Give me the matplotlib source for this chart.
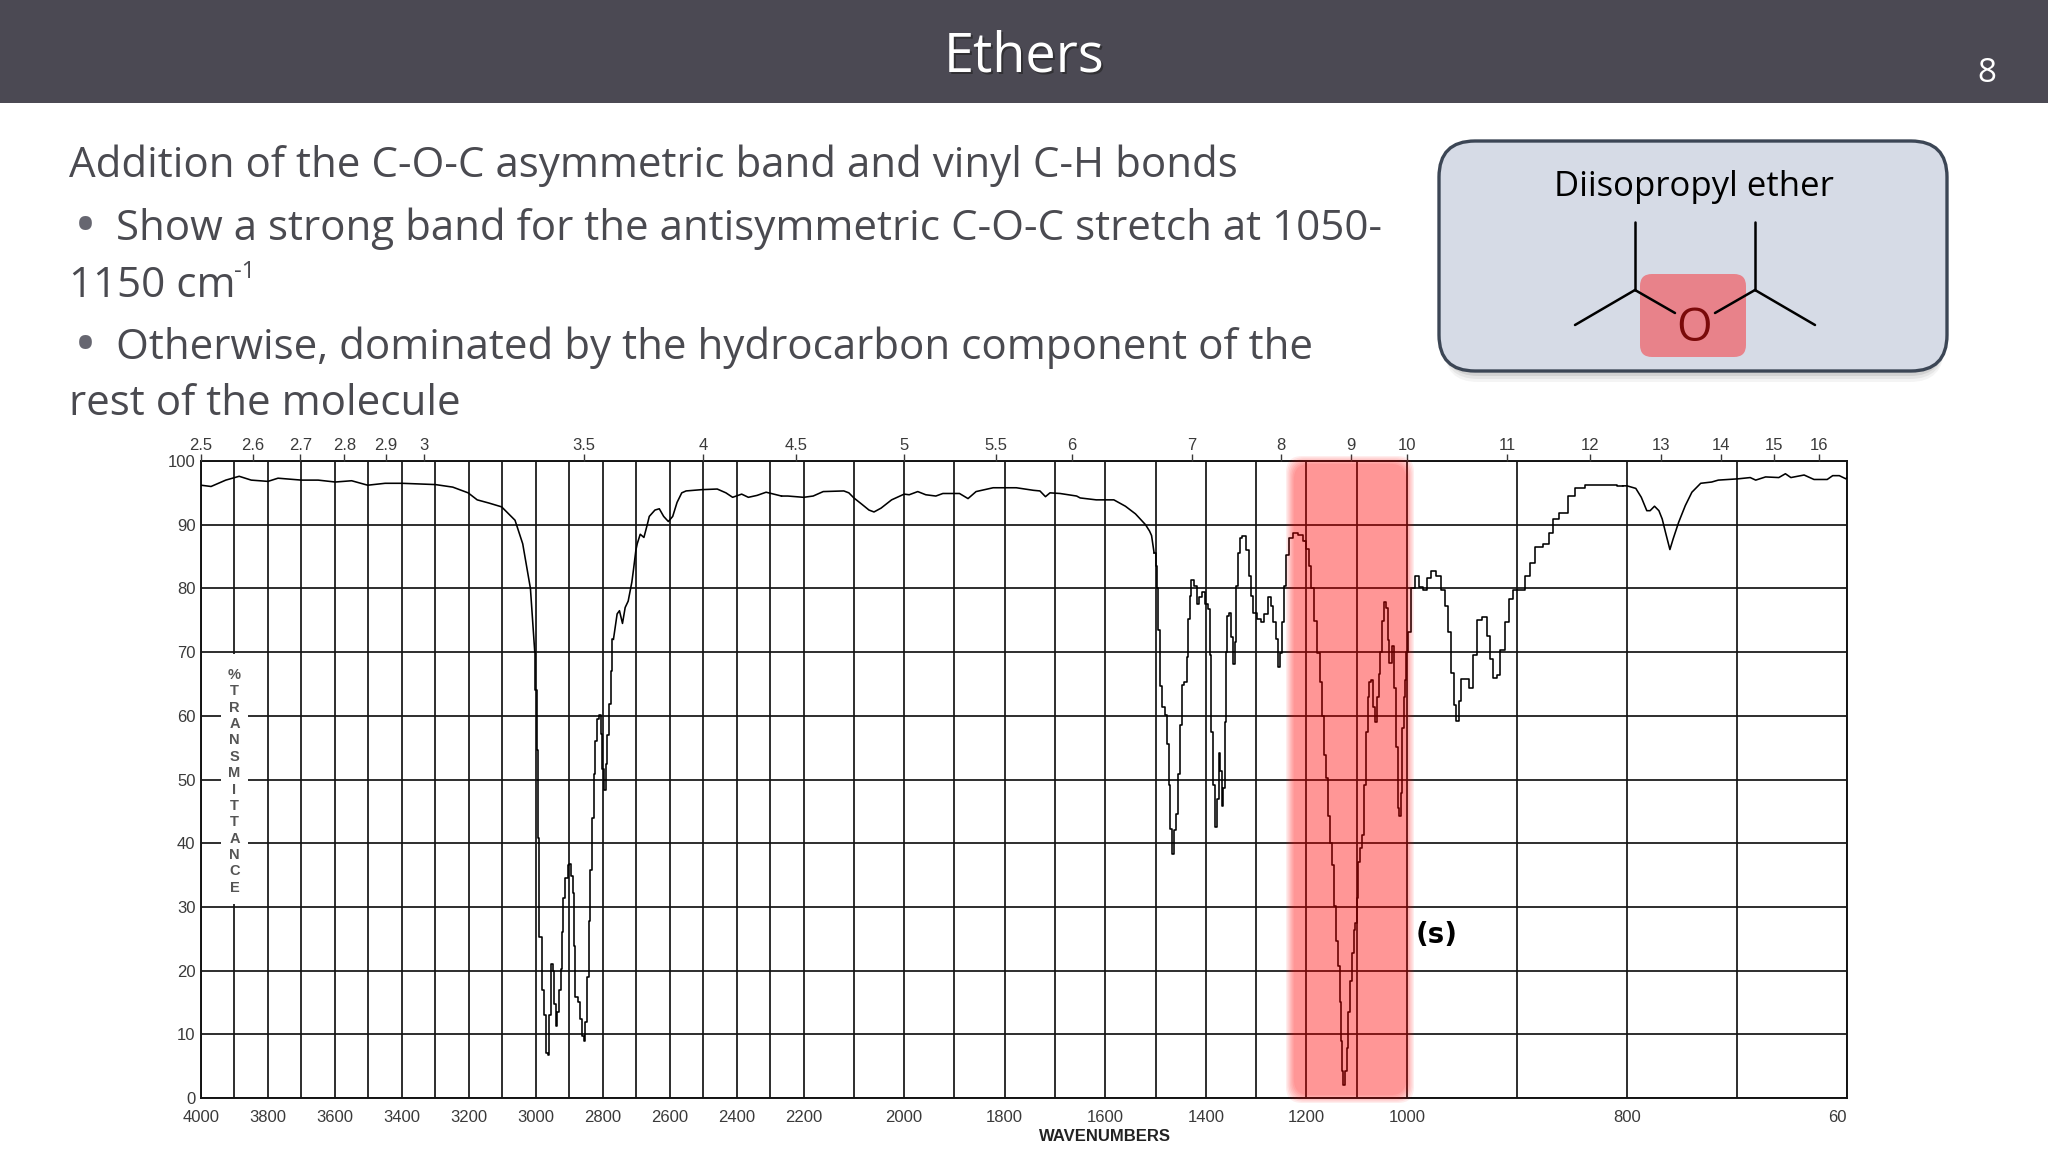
import numpy as np
import matplotlib
matplotlib.use("Agg")
import matplotlib.pyplot as plt
from matplotlib.patches import FancyBboxPatch, Rectangle

# spectrum (wavenumber, %T)
wn_base = [4000, 3970, 3926, 3886, 3850, 3800, 3770, 3700, 3650, 3599, 3550, 3502, 3450, 3400, 3350, 3300, 3248,
           3202, 3175, 3140, 3102, 3062, 3039, 3016, 3003]
t_base = [96.2, 96, 97, 97.6, 97, 96.8, 97.3, 97, 97, 96.7, 96.9, 96.2, 96.5, 96.5, 96.4, 96.3, 95.9,
          95, 93.9, 93.4, 92.8, 90.7, 87, 80, 70]

wn_ch = [2999, 2996, 2993, 2985, 2979, 2974, 2967, 2962, 2957, 2954, 2946, 2944, 2938, 2933, 2928, 2923, 2920,
         2915, 2908, 2902, 2897, 2892, 2888, 2884, 2879, 2871, 2864, 2859, 2853, 2851, 2844, 2840, 2834, 2830,
         2825, 2820, 2815, 2809, 2803, 2799, 2793, 2789, 2784, 2779, 2774, 2768]
t_ch = [64, 54.6, 40.8, 25.2, 17, 13, 7, 6.7, 13, 21, 20, 14.8, 11.3, 13.5, 16.9, 20.2, 26,
        31.4, 34.5, 36.6, 36.8, 34.8, 32.2, 23.9, 15.8, 15, 12.4, 9.8, 9, 11.9, 19, 27.8, 35.8, 43.9,
        50.9, 56, 59.5, 60.1, 57.1, 51.7, 48.3, 52.4, 57, 61.8, 67, 72]

wn_over = [2757, 2750, 2741, 2733, 2724, 2713, 2708, 2701, 2697, 2688, 2677, 2667, 2661, 2644, 2631, 2618, 2604,
           2591, 2578, 2564, 2551, 2505, 2458, 2432, 2412, 2385, 2365, 2339, 2312, 2266]
t_over = [76, 76.5, 74.5, 77, 78, 81, 83, 86, 87, 88.5, 88, 90, 91.3, 92.3, 92.5, 91.3, 90.5,
          91.3, 93.5, 95, 95.3, 95.5, 95.6, 95, 94.3, 94.8, 94.3, 94.6, 95.1, 94.5]

wn_mid = [2247, 2200, 2181, 2161, 2120, 2110, 2100, 2084, 2070, 2060, 2046, 2025, 2000, 1990, 1973, 1957, 1937,
          1923, 1890, 1873, 1857, 1823, 1777, 1743, 1730, 1719, 1710, 1690, 1657, 1650, 1618, 1583, 1560, 1540,
          1520, 1512, 1508, 1503]
t_mid = [94.5, 94.3, 94.5, 95.2, 95.3, 95, 94.2, 93.2, 92.3, 92, 92.6, 93.9, 94.8, 94.7, 95.2, 94.7, 94.5,
         94.9, 94.9, 94.1, 95.2, 95.8, 95.8, 95.4, 95.3, 94.4, 95, 94.9, 94.5, 94.2, 93.9, 93.9, 92.9, 91.7,
         90, 89, 88.3, 85.6]

wn_fp1 = [1497, 1497, 1493, 1490, 1485, 1479, 1475, 1472, 1469, 1465, 1462, 1457, 1453, 1449, 1445, 1440, 1437,
          1434, 1431, 1427, 1422, 1415, 1411, 1405, 1399, 1393, 1391, 1387, 1384, 1381, 1375, 1373, 1370, 1367,
          1363, 1361, 1359, 1355, 1351, 1349, 1344, 1341, 1339, 1335, 1331, 1324, 1317, 1312, 1309, 1302, 1295,
          1287, 1280, 1273, 1269, 1264, 1259, 1255, 1251, 1247, 1243, 1239, 1232, 1222, 1212, 1202]
t_fp1 = [83.5, 80, 73.4, 64.6, 61.4, 60.1, 55.5, 49.2, 42.2, 38.3, 42, 44.6, 50.8, 58.6, 64.8, 65.3, 69.2,
         75.2, 78.8, 81.3, 80.4, 77.5, 78.6, 79.4, 77.5, 76.8, 69.5, 57.5, 49.2, 42.5, 46.9, 54.2, 51.3, 45.9,
         48.7, 59.1, 70, 75.7, 76.2, 72.3, 68.2, 71.6, 80.4, 85.6, 87.9, 88.2, 86.1, 82, 78.8, 76.2, 75.2,
         74.8, 76, 78.6, 77.3, 74.7, 72.1, 67.7, 69.8, 74.7, 80.4, 85.3, 87.9, 88.7, 88.4, 87.4]

wn_coc = [1198, 1193, 1188, 1181, 1177, 1171, 1168, 1163, 1159, 1155, 1150, 1147, 1143, 1138, 1135, 1133, 1131,
          1128, 1125, 1121, 1118, 1115, 1111, 1108, 1104, 1101, 1099, 1097, 1091, 1088, 1083, 1080, 1077, 1073,
          1069, 1065, 1061, 1057, 1055, 1051, 1047, 1043, 1040, 1037, 1033, 1028, 1023, 1020, 1017, 1014, 1011,
          1008, 1005, 1003, 1000]
t_coc = [86.2, 83.5, 80, 74.9, 69.8, 65.3, 59.9, 53.9, 50.3, 44.3, 40.1, 36.5, 30.2, 24.6, 20.7, 15, 9,
         4.2, 2, 4.2, 7.8, 13.5, 18.3, 22.8, 26.3, 27.5, 31.4, 37.1, 39.2, 41.3, 49.1, 57.5, 62.9, 65.3,
         65.6, 61.4, 59, 62.9, 66.5, 70, 74.9, 77.8, 76.9, 71.9, 68.3, 71, 64.4, 55.1, 45.5, 44.3, 47.9,
         58.1, 62.9, 65.6, 70]

wn_fp2 = [998, 995, 991, 987, 983, 980, 976, 972, 967, 964, 961, 959, 956, 954, 952, 949, 946, 942, 938, 934,
          929, 926, 923, 920, 917, 913, 909, 906, 901, 895, 891, 886, 881, 872, 869, 866, 857, 851, 843, 834,
          815, 804]
t_fp2 = [73.2, 80, 81.9, 80.2, 79.7, 81.7, 82.8, 81.9, 79.7, 77.2, 73.2, 66.7, 61.7, 59.2, 62.4, 65.7, 65.7, 64.4, 69.6, 75,
         75.5, 72.5, 68.9, 66, 66.4, 70.3, 74.7, 78.3, 79.7, 79.8, 81.9, 84, 86.5, 87, 88.7, 90.9, 91.9, 94.5, 95.7, 96.2,
         96.3, 96.1]

wn_end = [800, 792, 787, 782, 779, 775, 771, 768, 765, 761, 758, 753, 747, 741, 733, 723, 717, 699, 688, 683,
          674, 662, 656, 651, 639, 630, 618, 613, 607, 601, 600]
t_end = [96.1, 95.7, 94.3, 92.2, 92.2, 92.9, 92.2, 90.9, 88.8, 86.1, 87.8, 90.4, 93, 95.1, 96.5, 96.7, 97, 97.2, 97.4, 97,
         97.5, 97.4, 98, 97.4, 97.8, 97.1, 97.1, 97.7, 97.7, 97.2, 97.4]

grid_wn = list(range(4000, 999, -100)) + [900, 800, 700, 600]
grid_t = list(range(0, 101, 10))
bottom_labels = [4000, 3800, 3600, 3400, 3200, 3000, 2800, 2600, 2400, 2200, 2000, 1800, 1600, 1400, 1200, 1000, 800]
micron_labels = ['2.5', '2.6', '2.7', '2.8', '2.9', '3', '3.5', '4', '4.5', '5', '5.5', '6', '7', '8', '9', '10',
                 '11', '12', '13', '14', '15', '16']

# the old spectrometer charts change scale at 2200 and 1000 cm-1
scale_wn = [600, 1000, 2200, 4000]
scale_pos = [0, 440, 1043.4, 1646]


def forward(w):
    return np.interp(w, scale_wn, scale_pos)


def inverse(p):
    return np.interp(p, scale_pos, scale_wn)


W, H = 2048, 1152
fig = plt.figure(figsize=(W / 100, H / 100), dpi=100, facecolor='white')
plt.rcParams['font.family'] = ['Open Sans', 'DejaVu Sans']
TEXT_FONT = 'Open Sans'
CHART_FONT = 'Liberation Sans'

# slide background, pixel coordinates
bg = fig.add_axes([0, 0, 1, 1], zorder=0)
bg.set_xlim(0, W)
bg.set_ylim(H, 0)
bg.axis('off')
bg.add_patch(Rectangle((0, 0), W, 103, fc='#4b4953', ec='none'))
bg.text(1026, 59, 'Ethers', color='#222222', fontsize=39, family=TEXT_FONT, ha='center', va='center', alpha=0.6)
bg.text(1024, 57, 'Ethers', color='white', fontsize=39, family=TEXT_FONT, ha='center', va='center')
bg.text(1987, 73, '8', color='white', fontsize=24, family=TEXT_FONT, ha='center', va='center')

body_color = '#4a4a50'
body = [(69, 166, 'Addition of the C-O-C asymmetric band and vinyl C-H bonds'),
        (116, 229, 'Show a strong band for the antisymmetric C-O-C stretch at 1050-'),
        (69, 286, '1150 cm'),
        (116, 348, 'Otherwise, dominated by the hydrocarbon component of the'),
        (69, 404, 'rest of the molecule')]
for x, y, s in body:
    bg.text(x, y, s, color=body_color, fontsize=30.3, family=TEXT_FONT, ha='left', va='center')
bg.text(234, 272, '-1', color=body_color, fontsize=17, family=TEXT_FONT, ha='left', va='center')
for y in [229, 348]:
    bg.text(85, y, '\u2022', color='#666670', fontsize=44, family=TEXT_FONT, ha='center', va='center')

# structure box
for off, a in [(10, 0.10), (7, 0.15), (4, 0.25)]:
    bg.add_patch(FancyBboxPatch((1444, 146 + off), 500, 226, boxstyle='round,pad=0,rounding_size=34',
                                fc='#9a9a9a', ec='none', alpha=a))
bg.add_patch(FancyBboxPatch((1439, 141), 508, 230, boxstyle='round,pad=0,rounding_size=36',
                            fc='#d6dbe6', ec='#3c4655', lw=2.4))
bg.text(1694, 187, 'Diisopropyl ether', color='black', fontsize=25, family=TEXT_FONT, ha='center', va='center')
bg.add_patch(FancyBboxPatch((1640, 274), 106, 83, boxstyle='round,pad=0,rounding_size=12',
                            fc='#e8828a', ec='none'))
bonds = [((1635, 222), (1635, 290)), ((1575, 325), (1635, 290)), ((1635, 290), (1675, 313)),
         ((1715, 313), (1755, 290)), ((1755, 222), (1755, 290)), ((1755, 290), (1815, 325))]
for (x0, y0), (x1, y1) in bonds:
    bg.plot([x0, x1], [y0, y1], color='black', lw=1.8, solid_capstyle='round')
bg.text(1694, 329, 'O', color='#7a0a0a', fontsize=33, family=TEXT_FONT, ha='center', va='center')

# spectrum
ax = fig.add_axes([201 / W, 1 - 1098 / H, 1646 / W, 637 / H], zorder=2, facecolor='none')
ax.set_xscale('function', functions=(forward, inverse))
ax.set_xlim(4000, 600)
ax.set_ylim(0, 100)
ax.set_xticks(grid_wn)
ax.set_xticklabels([str(v) if v in bottom_labels else '' for v in grid_wn])
ax.set_yticks(grid_t)
ax.set_yticklabels([str(v) for v in grid_t])
ax.xaxis.set_minor_locator(plt.NullLocator())
ax.tick_params(axis='both', length=0, colors='#3a3a3a', labelsize=12)
ax.tick_params(axis='x', pad=9)
ax.tick_params(axis='y', pad=4)
for lab in ax.get_xticklabels() + ax.get_yticklabels():
    lab.set_family(CHART_FONT)
ax.grid(True, color='#141414', lw=1.25)
ax.set_axisbelow(True)
for sp in ax.spines.values():
    sp.set_color('#141414')
    sp.set_linewidth(1.4)

# flat stretches as a plain trace, the bands with the recorder's stair steps
segments = [(wn_base, t_base, 'default'), (wn_ch, t_ch, 'steps-mid'), (wn_over, t_over, 'default'),
            (wn_mid, t_mid, 'default'), (wn_fp1, t_fp1, 'steps-mid'), (wn_coc, t_coc, 'steps-mid'),
            (wn_fp2, t_fp2, 'steps-mid'), (wn_end, t_end, 'default')]
prev = None
for xs, ys, style in segments:
    xs_draw = ([prev[0]] if prev else []) + xs
    ys_draw = ([prev[1]] if prev else []) + ys
    ax.plot(xs_draw, ys_draw, color='black', lw=1.15, drawstyle=style, zorder=3)
    prev = (xs[-1], ys[-1])

# vertical y label sits on a white patch over the 3900 line
ax.add_patch(Rectangle((3859, 30.5), 82, 39.2, fc='white', ec='none', zorder=1))
label_y = np.linspace(66.4, 33, len('%TRANSMITTANCE'))
for ch, y in zip('%TRANSMITTANCE', label_y):
    ax.text(3900, y, ch, ha='center', va='center', fontsize=10.5, fontweight='bold', color='#555555',
            family=CHART_FONT, zorder=3)

ax.text(973, 25.6, '(s)', ha='center', va='center', fontsize=20, fontweight='bold', color='black',
        family='DejaVu Sans', zorder=4)
ax.text(600, -3.0, '60', ha='right', va='center', fontsize=12, color='#3a3a3a', family=CHART_FONT)
ax.text(1600, -6.0, 'WAVENUMBERS', ha='center', va='center', fontsize=12, fontweight='bold', color='#222222',
        family=CHART_FONT)

# wavelength axis along the top
top = ax.twiny()
top.set_xscale('function', functions=(forward, inverse))
top.set_xlim(4000, 600)
top.set_xticks([10000 / float(m) for m in micron_labels])
top.set_xticklabels(micron_labels)
top.xaxis.set_minor_locator(plt.NullLocator())
top.tick_params(axis='x', length=5, width=1, colors='#3a3a3a', labelsize=12, pad=1)
for lab in top.get_xticklabels():
    lab.set_family(CHART_FONT)
for sp in top.spines.values():
    sp.set_visible(False)

# soft red highlight over the C-O-C band
over = fig.add_axes([0, 0, 1, 1], zorder=5, facecolor='none')
over.set_xlim(0, W)
over.set_ylim(H, 0)
over.axis('off')
n = 7
layer_alpha = 1 - (1 - 0.40) ** (1 / n)
for i in range(n):
    d = i * 1.3
    over.add_patch(FancyBboxPatch((1286 + d, 456 + d), 128 - 2 * d, 647 - 2 * d,
                                  boxstyle='round,pad=0,rounding_size=16',
                                  fc='red', ec='none', alpha=layer_alpha))

fig.savefig('out.png', dpi=100)
